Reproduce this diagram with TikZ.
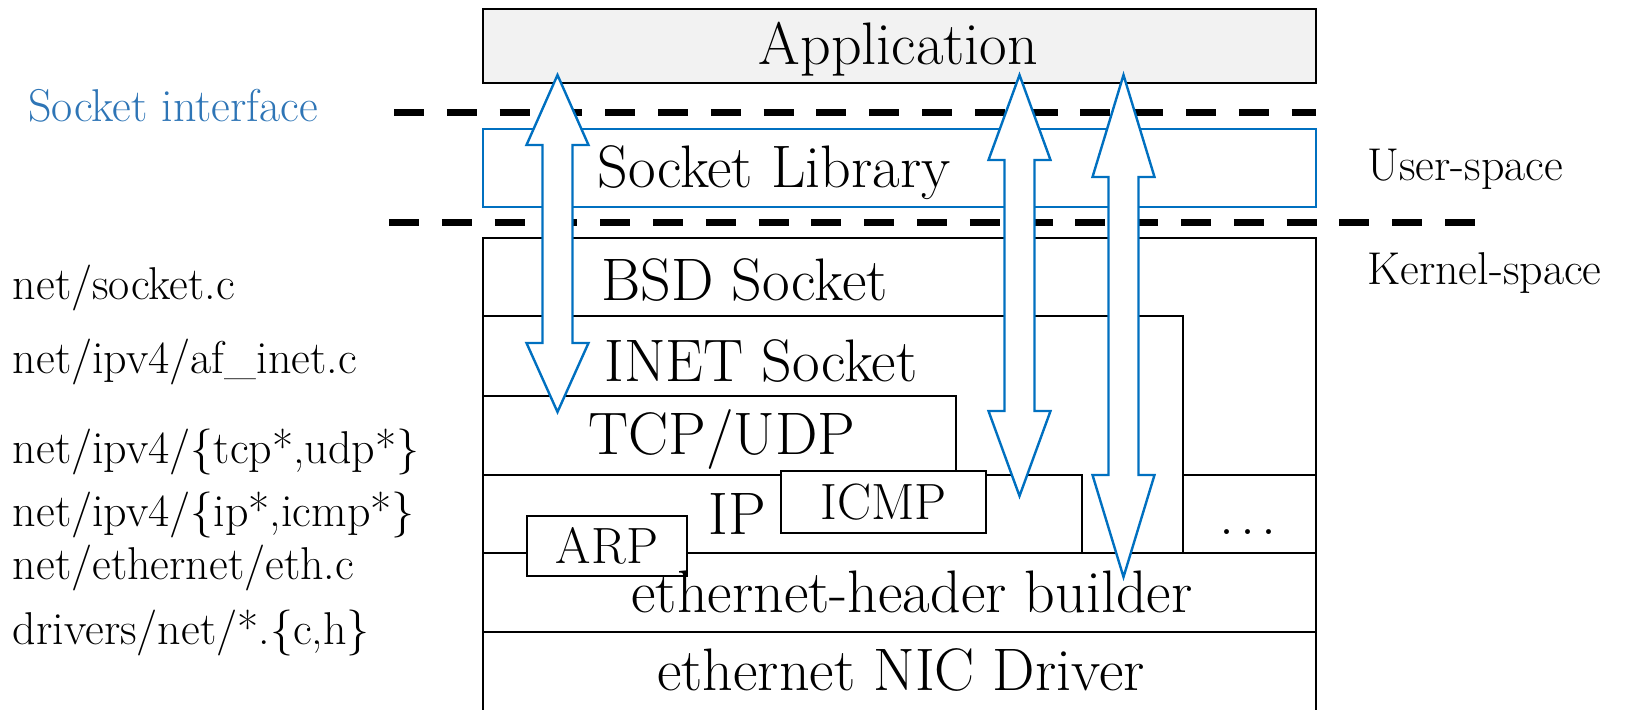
\documentclass[tikz,border=0pt]{standalone}
\definecolor{ifblue}{RGB}{0,112,192}
\definecolor{labelblue}{RGB}{46,117,182}
\definecolor{appfill}{RGB}{242,242,242}
\tikzset{
  layerline/.style={draw=black, line width=1.2pt},
  bigtext/.style={font=\fontsize{30}{34}\selectfont, inner sep=0pt, anchor=base},
  boxtext/.style={font=\fontsize{25.5}{29}\selectfont, draw=black, line width=1.2pt, fill=white, inner sep=0pt},
  sidetext/.style={font=\fontsize{23}{27}\selectfont, inner sep=0pt, anchor=base west},
  boundary/.style={line width=3.5pt, dash pattern=on 15pt off 11.4pt},
  blockarrow/.style={draw=ifblue, fill=white, line width=1.2pt, line join=miter},
}
% double-headed block arrow: centre x, top tip, top head base, bottom head base, bottom tip
\newcommand\updownblock[5]{%
  \draw[blockarrow] (#1,#2) -- (#1+31,#3) -- (#1+15,#3) -- (#1+15,#4) -- (#1+31,#4)
    -- (#1,#5) -- (#1-31,#4) -- (#1-15,#4) -- (#1-15,#3) -- (#1-31,#3) -- cycle;}
\begin{document}
\begin{tikzpicture}[x=0.5pt,y=-0.5pt]
\useasboundingbox (0,0) rectangle (1627,710);
\clip (0,0) rectangle (1627,710);

% user space
\draw[layerline, fill=appfill] (483,9) rectangle (1316,83);
\draw[boundary] (394,113) -- (1316,113);
\draw[layerline, draw=ifblue] (483,129) rectangle (1316,207);
\draw[boundary] (389,223) -- (1478,223);

% kernel space layers
\draw[layerline] (483,720) |- (1316,238) -- (1316,720);
\draw[layerline] (483,316) -| (1183,553);
\draw[layerline] (483,396) -| (956,475);
\draw[layerline] (483,475) -| (1082,553);
\draw[layerline] (1183,475) -- (1316,475);
\draw[layerline] (483,553) -- (1316,553);
\draw[layerline] (483,632) -- (1316,632);
\node[boxtext, minimum width=102.5pt, minimum height=31pt] (icmp) at (883.5,502) {ICMP};
\node[boxtext, minimum width=80pt, minimum height=30pt] (arp) at (607,546) {ARP};

% calls crossing the layers
\updownblock{557.5}{75}{145}{343}{412}
\updownblock{1019.5}{75}{160}{411}{496}
\updownblock{1123.5}{75}{177}{475}{577}

% layer names
\node[bigtext] (app) at (898.5,65) {Application};
\node[bigtext] (lib) at (774,188) {Socket Library};
\node[bigtext] (bsd) at (744.5,301) {BSD Socket};
\node[bigtext] (inet) at (761,382) {INET Socket};
\node[bigtext] (tcp) at (722,455) {TCP/UDP};
\node[bigtext] (ip) at (737,535) {IP};
\node[bigtext] (more) at (1248,535) {.\kern3pt.\kern3pt.};
\node[bigtext] (eth) at (912,612) {ethernet-header builder};
\node[bigtext] (nic) at (901,690) {ethernet NIC Driver};

% source files and space labels
\node[sidetext, text=labelblue] (sockif) at (28,122) {Socket interface};
\node[sidetext] (fsock) at (12.5,300) {net/socket.c};
\node[sidetext] (finet) at (12.5,374) {net/ipv4/af\_inet.c};
\node[sidetext] (ftcp) at (12.5,464) {net/ipv4/\{tcp*,udp*\}};
\node[sidetext] (fip) at (12.5,527) {net/ipv4/\{ip*,icmp*\}};
\node[sidetext] (feth) at (12.5,580) {net/ethernet/eth.c};
\node[sidetext] (fdrv) at (12.5,644) {drivers/net/*.\{c,h\}};
\node[sidetext] (user) at (1367,181) {User-space};
\node[sidetext] (kern) at (1367,285) {Kernel-space};
\end{tikzpicture}
\end{document}
